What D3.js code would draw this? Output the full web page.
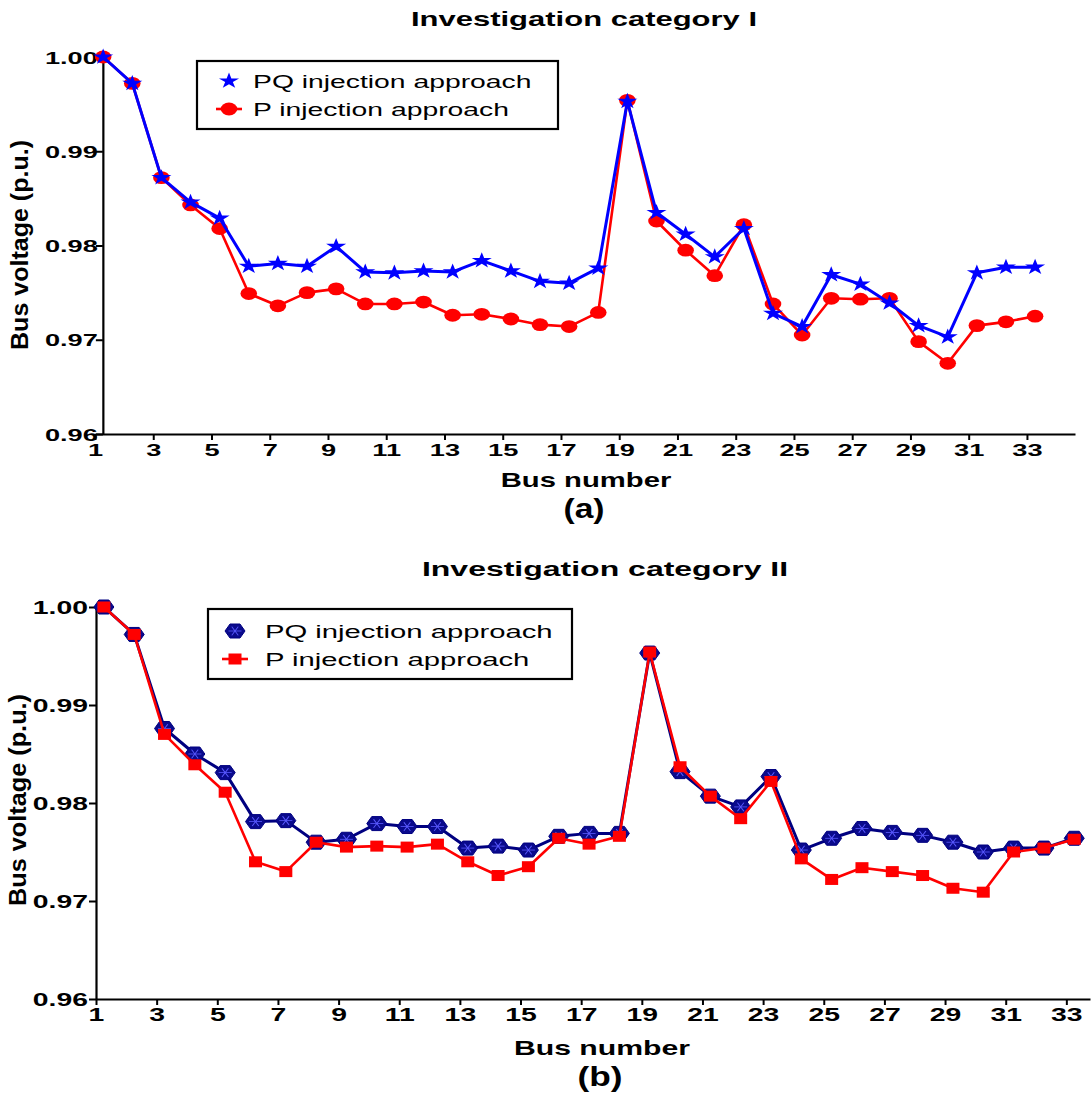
<!DOCTYPE html>
<html>
<head>
<meta charset="utf-8">
<script src="https://cdn.jsdelivr.net/npm/d3@7"></script>
<style>
  body { margin: 0; background: #fff; }
  svg { display: block; }
</style>
</head>
<body>
<svg id="fig" width="1092" height="1093"></svg>
<script>
// ---- data ----
const buses = d3.range(1, 34);
const xTickValues = d3.range(1, 34, 2);
const yTickValues = [0.96, 0.97, 0.98, 0.99, 1.00];
const seriesNames = ["PQ injection approach", "P injection approach"];
const panelTitles = ["Investigation category I", "Investigation category II"];
const panelTags = ["(a)", "(b)"];

// bus voltages (p.u.), category I
const catI_PQ = [1.0000, 0.9972, 0.9872, 0.9846, 0.9829, 0.9778, 0.9781, 0.9778, 0.9799, 0.9772,
                 0.9771, 0.9773, 0.9772, 0.9784, 0.9773, 0.9762, 0.9760, 0.9776, 0.9953, 0.9835,
                 0.9812, 0.9788, 0.9818, 0.9728, 0.9714, 0.9769, 0.9759, 0.9739, 0.9715, 0.9703,
                 0.9771, 0.9777, 0.9777];
const catI_P  = [1.0000, 0.9972, 0.9872, 0.9843, 0.9818, 0.9749, 0.9736, 0.9750, 0.9754, 0.9738,
                 0.9738, 0.9740, 0.9726, 0.9727, 0.9722, 0.9716, 0.9714, 0.9729, 0.9954, 0.9826,
                 0.9795, 0.9768, 0.9822, 0.9738, 0.9705, 0.9744, 0.9743, 0.9744, 0.9698, 0.9675,
                 0.9715, 0.9719, 0.9725];
// bus voltages (p.u.), category II
const catII_PQ = [1.0000, 0.9972, 0.9876, 0.9850, 0.9831, 0.9781, 0.9782, 0.9760, 0.9763, 0.9779,
                  0.9776, 0.9776, 0.9754, 0.9756, 0.9752, 0.9766, 0.9769, 0.9769, 0.9953, 0.9832,
                  0.9807, 0.9796, 0.9827, 0.9752, 0.9764, 0.9774, 0.9770, 0.9767, 0.9760, 0.9750,
                  0.9754, 0.9754, 0.9764];
const catII_P  = [1.0000, 0.9972, 0.9870, 0.9839, 0.9811, 0.9740, 0.9730, 0.9760, 0.9755, 0.9756,
                  0.9755, 0.9758, 0.9740, 0.9726, 0.9735, 0.9764, 0.9758, 0.9766, 0.9954, 0.9837,
                  0.9807, 0.9784, 0.9822, 0.9743, 0.9722, 0.9734, 0.9730, 0.9726, 0.9713, 0.9709,
                  0.9750, 0.9754, 0.9763];

// ---- drawing ----
const FONT = "'Liberation Sans', Arial, Helvetica, sans-serif";
const svg = d3.select("#fig");

// text drawn with a horizontal stretch (wide figure lettering)
function wideText(parent, x, y, str, o) {
  return parent.append("text")
    .attr("transform", `translate(${x},${y}) scale(${o.sx},1)`)
    .attr("text-anchor", o.anchor || "middle")
    .attr("font-family", FONT)
    .attr("font-weight", o.weight || "bold")
    .attr("font-size", o.size)
    .attr("fill", "#000")
    .text(str);
}

const starPath = d3.symbol(d3.symbolStar, 80)();
const hexPath = (w, h) => `M${-w/2},0L${-w/4},${-h/2}L${w/4},${-h/2}L${w/2},0L${w/4},${h/2}L${-w/4},${h/2}Z`;

function drawPQStar(g) {
  g.append("path").attr("d", starPath).attr("fill", "#0000ff")
    .attr("transform", "scale(1.25,1)");
}
function drawPEllipse(g) {
  g.append("ellipse").attr("rx", 8.3).attr("ry", 6.4).attr("fill", "#ff0000");
}
function drawPQHex(g) {
  g.append("path").attr("d", hexPath(20, 14)).attr("fill", "#0a0a8c")
    .attr("stroke", "#000080").attr("stroke-width", 1);
  [0, 60, 120].forEach(a => {
    g.append("line").attr("x1", -5).attr("x2", 5).attr("y1", 0).attr("y2", 0)
      .attr("transform", `scale(1.3,1) rotate(${a})`)
      .attr("stroke", "#5a5aff").attr("stroke-width", 0.8);
  });
}
function drawPSquare(g) {
  g.append("rect").attr("x", -6.5).attr("y", -5.5).attr("width", 13).attr("height", 11)
    .attr("fill", "#ff0000");
}

function panel(cfg) {
  const g = svg.append("g");
  const x = d3.scaleLinear().domain([1, cfg.xEnd]).range([cfg.x0, cfg.x1]);
  const y = d3.scaleLinear().domain([0.96, 1.00]).range([cfg.yBottom, cfg.yTop]);

  // x axis
  const xAxis = g.append("g").attr("transform", `translate(0,${cfg.yBottom})`)
    .call(d3.axisBottom(x).tickValues(xTickValues).tickSize(6).tickSizeOuter(0).tickFormat(d3.format("d")));
  xAxis.select(".domain").attr("stroke-width", 2.2);
  xAxis.selectAll(".tick line").attr("stroke-width", 2);
  xAxis.selectAll(".tick text").remove();
  xAxis.selectAll(".tick").each(function(d) {
    wideText(d3.select(this), 0, cfg.xLabelDy, d3.format("d")(d), { size: cfg.tickSize, sx: cfg.tickSx });
  });

  // y axis
  const yAxisX = x(cfg.yAxisAt);
  const yAxis = g.append("g").attr("transform", `translate(${yAxisX},0)`)
    .call(d3.axisLeft(y).tickValues(yTickValues).tickSize(7).tickSizeOuter(0).tickFormat(d3.format(".2f")));
  yAxis.select(".domain").attr("stroke-width", 2.2);
  yAxis.selectAll(".tick line").attr("stroke-width", 2);
  yAxis.selectAll(".tick text").remove();
  yAxis.selectAll(".tick").each(function(d) {
    wideText(d3.select(this), -cfg.yLabelGap, cfg.tickSize * 0.36, d3.format(".2f")(d),
      { size: cfg.tickSize, sx: cfg.tickSx, anchor: "end" });
  });

  // titles
  wideText(g, cfg.titleX, cfg.titleY, cfg.title, { size: 20, sx: cfg.titleSx });
  wideText(g, cfg.xTitleX, cfg.xTitleY, "Bus number", { size: 19.5, sx: cfg.xTitleSx });
  wideText(g, cfg.tagX, cfg.tagY, cfg.tag, { size: 28, sx: cfg.tagSx });
  g.append("text")
    .attr("transform", `translate(${cfg.yTitleX},${cfg.yTitleY}) rotate(-90) scale(1,1.45)`)
    .attr("text-anchor", "middle")
    .attr("font-family", FONT).attr("font-weight", "bold").attr("font-size", 17)
    .attr("textLength", cfg.yTitleLen).attr("lengthAdjust", "spacingAndGlyphs")
    .text("Bus voltage (p.u.)");

  // series
  const px = b => x(b + cfg.shift);
  const line = d3.line().x((d, i) => px(buses[i])).y(d => y(d));
  cfg.series.forEach(s => {
    g.append("path").datum(s.values).attr("d", line).attr("fill", "none")
      .attr("stroke", s.color).attr("stroke-width", s.width).attr("stroke-linejoin", "round");
    g.append("g").selectAll("g").data(s.values).join("g")
      .attr("transform", (d, i) => `translate(${px(buses[i])},${y(d)})`)
      .each(function() { s.marker(d3.select(this)); });
  });

  // legend
  const L = cfg.legend;
  g.append("rect").attr("x", L.x).attr("y", L.y).attr("width", L.w).attr("height", L.h)
    .attr("fill", "#fff").attr("stroke", "#000").attr("stroke-width", 2.2);
  cfg.legendOrder.forEach((s, i) => {
    const cy = L.y + L.row0 + i * L.rowStep;
    if (s.legendLine) {
      g.append("line").attr("x1", L.mx - 13).attr("x2", L.mx + 13).attr("y1", cy).attr("y2", cy)
        .attr("stroke", s.color).attr("stroke-width", s.width);
    }
    const mg = g.append("g").attr("transform", `translate(${L.mx},${cy})`);
    s.marker(mg);
    wideText(g, L.tx, cy + 6.5, s.name, { size: 18.5, sx: L.sx, anchor: "start", weight: "normal" });
  });
}

// category I
const sI_PQ = { name: seriesNames[0], values: catI_PQ, color: "#0000ff", width: 3, marker: drawPQStar };
const sI_P  = { name: seriesNames[1], values: catI_P,  color: "#ff0000", width: 2.6, marker: drawPEllipse, legendLine: true };
panel({
  x0: 95, x1: 1075, xEnd: 34.65, shift: 0.28, yAxisAt: 1.27,
  yTop: 57, yBottom: 434,
  xLabelDy: 22, yLabelGap: 5, tickSize: 17, tickSx: 1.6,
  title: panelTitles[0], titleX: 584, titleY: 26, titleSx: 1.55,
  xTitleX: 586, xTitleY: 487, xTitleSx: 1.5,
  tag: panelTags[0], tagX: 584, tagY: 518, tagSx: 1.2,
  yTitleX: 28, yTitleY: 245, yTitleLen: 210,
  series: [sI_P, sI_PQ],
  legendOrder: [sI_PQ, sI_P],
  legend: { x: 197, y: 61, w: 361, h: 68, row0: 20, rowStep: 28, mx: 229, tx: 253, sx: 1.53 }
});

// category II
const sII_PQ = { name: seriesNames[0], values: catII_PQ, color: "#000080", width: 3, marker: drawPQHex };
const sII_P  = { name: seriesNames[1], values: catII_P,  color: "#ff0000", width: 2.6, marker: drawPSquare, legendLine: true };
panel({
  x0: 96, x1: 1090, xEnd: 33.78, shift: 0.26, yAxisAt: 1.0,
  yTop: 607, yBottom: 999,
  xLabelDy: 22, yLabelGap: 8, tickSize: 17.5, tickSx: 1.62,
  title: panelTitles[1], titleX: 605, titleY: 576, titleSx: 1.6,
  xTitleX: 602, xTitleY: 1055, xTitleSx: 1.55,
  tag: panelTags[1], tagX: 600, tagY: 1086, tagSx: 1.26,
  yTitleX: 26, yTitleY: 800, yTitleLen: 212,
  series: [sII_PQ, sII_P],
  legendOrder: [sII_PQ, sII_P],
  legend: { x: 208, y: 609, w: 364, h: 70, row0: 22, rowStep: 28, mx: 235, tx: 265, sx: 1.58 }
});
</script>
</body>
</html>
